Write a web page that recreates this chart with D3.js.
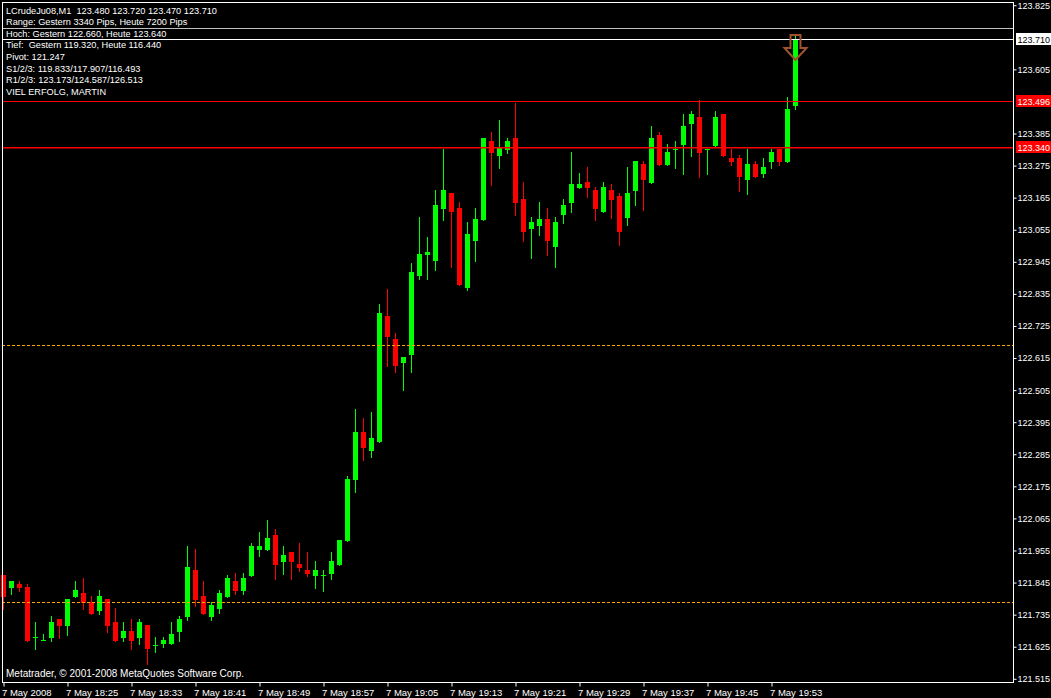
<!DOCTYPE html>
<html><head><meta charset="utf-8">
<script src="https://cdn.jsdelivr.net/npm/d3@7"></script>
<style>
html,body{margin:0;padding:0;background:#000;overflow:hidden}
text{font-family:"Liberation Sans",Arial,sans-serif;white-space:pre}
</style>
</head><body><svg id="c" width="1051" height="698"></svg>
<script>
const times = ["18:17","18:18","18:19","18:20","18:21","18:22","18:23","18:24","18:25","18:26",
"18:27","18:28","18:29","18:30","18:31","18:32","18:33","18:34","18:35","18:36",
"18:37","18:38","18:39","18:40","18:41","18:42","18:43","18:44","18:45","18:46",
"18:47","18:48","18:49","18:50","18:51","18:52","18:53","18:54","18:55","18:56",
"18:57","18:58","18:59","19:00","19:01","19:02","19:03","19:04","19:05","19:06",
"19:07","19:08","19:09","19:10","19:11","19:12","19:13","19:14","19:15","19:16",
"19:17","19:18","19:19","19:20","19:21","19:22","19:23","19:24","19:25","19:26",
"19:27","19:28","19:29","19:30","19:31","19:32","19:33","19:34","19:35","19:36",
"19:37","19:38","19:39","19:40","19:41","19:42","19:43","19:44","19:45","19:46",
"19:47","19:48","19:49","19:50","19:51","19:52","19:53","19:54","19:55","19:56"];

const opens = [121.871,121.827,121.840,121.830,121.657,121.647,121.656,121.720,121.697,121.796,
121.809,121.777,121.748,121.789,121.710,121.656,121.679,121.656,121.699,121.630,
121.635,121.635,121.676,121.727,121.888,121.799,121.728,121.755,121.796,121.850,
121.817,121.868,121.958,121.958,122.008,121.916,121.950,121.909,121.888,121.868,
121.871,121.875,121.905,121.988,122.198,122.361,122.296,122.327,122.759,122.680,
122.599,122.626,122.897,122.968,122.949,123.127,123.181,123.129,122.856,123.017,
123.089,123.359,123.309,123.329,123.369,123.160,123.058,123.069,123.092,122.997,
123.106,123.148,123.199,123.219,123.191,123.117,123.191,123.171,123.095,123.188,
123.280,123.215,123.380,123.277,123.332,123.345,123.417,123.441,123.332,123.342,
123.452,123.301,123.301,123.225,123.280,123.246,123.287,123.332,123.287,123.480];

const highs = [121.871,121.850,121.850,121.840,121.710,121.668,121.730,121.720,121.789,121.850,
121.861,121.799,121.819,121.789,121.758,121.710,121.720,121.720,121.699,121.658,
121.658,121.710,121.730,121.970,121.960,121.850,121.779,121.819,121.871,121.878,
121.878,121.981,122.018,122.059,122.029,121.971,121.950,121.981,121.950,121.919,
121.888,121.950,121.991,122.210,122.440,122.409,122.430,122.800,122.852,122.701,
122.618,122.941,123.099,123.030,123.191,123.332,123.181,123.150,123.081,123.129,
123.369,123.390,123.431,123.369,123.489,123.219,123.099,123.150,123.129,123.099,
123.160,123.321,123.249,123.270,123.201,123.219,123.212,123.181,123.270,123.291,
123.291,123.411,123.390,123.349,123.359,123.452,123.462,123.500,123.332,123.462,
123.452,123.332,123.311,123.332,123.291,123.301,123.332,123.332,123.510,123.720];

const lows = [121.754,121.807,121.817,121.646,121.618,121.647,121.646,121.656,121.666,121.796,
121.755,121.738,121.738,121.676,121.646,121.646,121.618,121.635,121.567,121.608,
121.625,121.635,121.646,121.717,121.766,121.738,121.717,121.740,121.796,121.807,
121.807,121.868,121.937,121.958,121.858,121.875,121.858,121.885,121.868,121.827,
121.817,121.858,121.905,121.988,122.156,122.266,122.277,122.327,122.589,122.568,
122.506,122.568,122.887,122.887,122.918,123.089,122.928,122.866,122.849,122.949,
123.089,123.209,123.268,123.319,123.106,123.017,122.959,123.038,122.969,122.928,
123.079,123.117,123.199,123.168,123.089,123.117,123.096,123.003,123.071,123.140,
123.123,123.215,123.277,123.277,123.267,123.246,123.308,123.237,123.246,123.342,
123.308,123.277,123.188,123.177,123.236,123.236,123.267,123.277,123.287,123.470];

const closes = [121.796,121.850,121.827,121.646,121.657,121.647,121.710,121.697,121.789,121.819,
121.776,121.738,121.799,121.697,121.646,121.679,121.646,121.710,121.618,121.630,
121.648,121.668,121.720,121.898,121.786,121.738,121.768,121.810,121.862,121.817,
121.862,121.971,121.971,121.998,121.905,121.939,121.916,121.896,121.875,121.888,
121.871,121.919,121.991,122.200,122.361,122.307,122.341,122.769,122.687,122.589,
122.618,122.910,122.972,122.979,123.140,123.191,123.117,122.866,123.040,123.092,
123.369,123.319,123.339,123.359,123.148,123.048,123.081,123.092,123.017,123.081,
123.140,123.212,123.212,123.199,123.127,123.201,123.158,123.047,123.181,123.291,
123.225,123.369,123.277,123.321,123.332,123.411,123.452,123.318,123.332,123.441,
123.308,123.287,123.236,123.280,123.236,123.270,123.321,123.287,123.469,123.710];

const priceTicks = [123.825,123.605,123.385,123.275,123.165,123.055,122.945,122.835,122.725,122.615,
122.505,122.395,122.285,122.175,122.065,121.955,121.845,121.735,121.625,121.515];

const timeTicks = ["18:17","18:25","18:33","18:41","18:49","18:57","19:05","19:13","19:21","19:29","19:37","19:45","19:53"];
const timeTickLabels = ["7 May 2008","7 May 18:25","7 May 18:33","7 May 18:41","7 May 18:49","7 May 18:57",
"7 May 19:05","7 May 19:13","7 May 19:21","7 May 19:29","7 May 19:37","7 May 19:45","7 May 19:53"];

const dashedLevels = [122.660, 121.780];
const redLevels = [123.496, 123.340];
const bidLevel = 123.710;
const askLevel = 123.747;

const headerLines = [
"LCrudeJu08,M1  123.480 123.720 123.470 123.710",
"Range: Gestern 3340 Pips, Heute 7200 Pips",
"Hoch: Gestern 122.660, Heute 123.640",
"Tief:  Gestern 119.320, Heute 116.440",
"Pivot: 121.247",
"S1/2/3: 119.833/117.907/116.493",
"R1/2/3: 123.173/124.587/126.513",
"VIEL ERFOLG, MARTIN"];
const copyright = "Metatrader, \u00A9 2001-2008 MetaQuotes Software Corp.";

const W = 1051, H = 698;
const L = 2, R = 1013, T = 2, B = 682;
const GREEN = "#00ff00", RED = "#ff0000";
const FONT = '"Liberation Sans",Arial,sans-serif';

const svg = d3.select("#c");
svg.append("rect").attr("width", W).attr("height", H).attr("fill", "#000");

const x = d3.scalePoint().domain(times).range([3.5, 795.5]);
const y = d3.scaleLinear().domain([121.504, 123.836]).range([B, T]);
const py = v => Math.round(y(v)) + 0.5;

// candles
const data = times.map((t, i) => ({t, o: opens[i], h: highs[i], l: lows[i], c: closes[i]}));
const cg = svg.append("g");
data.forEach(d => {
  const col = d.c >= d.o ? GREEN : RED;
  const cx = x(d.t);
  cg.append("line").attr("x1", cx).attr("x2", cx)
    .attr("y1", Math.round(y(d.h))).attr("y2", Math.round(y(d.l)) + 1)
    .attr("stroke", col).attr("stroke-width", 1);
  const top = Math.round(Math.min(y(d.o), y(d.c)));
  const bot = Math.round(Math.max(y(d.o), y(d.c)));
  cg.append("rect").attr("x", cx - 2.5).attr("y", top)
    .attr("width", 5).attr("height", Math.max(1, bot - top))
    .attr("fill", col);
});

// level lines
dashedLevels.forEach(v => {
  svg.append("line").attr("x1", L).attr("x2", R).attr("y1", py(v)).attr("y2", py(v))
    .attr("stroke", "#ffa500").attr("stroke-width", 1).attr("stroke-dasharray", "3,2");
});
redLevels.forEach((v, i) => {
  const w = i === 1 ? 1.5 : 1;
  const yy = i === 1 ? Math.round(y(v)) + 0.75 : py(v);
  svg.append("line").attr("x1", L).attr("x2", R).attr("y1", yy).attr("y2", yy)
    .attr("stroke", RED).attr("stroke-width", w);
});
svg.append("line").attr("x1", L).attr("x2", R).attr("y1", py(bidLevel)).attr("y2", py(bidLevel))
  .attr("stroke", "#fff").attr("stroke-width", 1);
svg.append("line").attr("x1", L).attr("x2", R).attr("y1", py(askLevel)).attr("y2", py(askLevel))
  .attr("stroke", "#c0c0c0").attr("stroke-width", 1);

// arrow above last bar
const last = data[data.length - 1];
const ax = x(last.t), ay = Math.round(y(last.h));
svg.append("path")
  .attr("d", `M${ax-5},${ay-1} L${ax+5},${ay-1} L${ax+5},${ay+12} L${ax+11},${ay+12} L${ax},${ay+24} L${ax-11},${ay+12} L${ax-5},${ay+12} Z`)
  .attr("fill", "none").attr("stroke", "#a0522d").attr("stroke-width", 2);

// frame
svg.append("rect").attr("x", L + 0.5).attr("y", T + 0.5).attr("width", R - L).attr("height", B - T)
  .attr("fill", "none").attr("stroke", "#fff").attr("stroke-width", 1);

// price axis
const yAxis = d3.axisRight(y).tickValues(priceTicks).tickSize(3).tickPadding(1)
  .tickFormat(d3.format(".3f"));
const ga = svg.append("g").attr("transform", `translate(${R + 0.5},0)`).call(yAxis);
ga.select(".domain").remove();
ga.selectAll("line").attr("stroke", "#fff");
ga.selectAll("text").attr("fill", "#fff").attr("font-size", 9).style("font-family", FONT);

// price markers
function marker(v, bg, fg) {
  const yy = Math.round(y(v));
  svg.append("rect").attr("x", R + 3).attr("y", yy - 6).attr("width", W - R - 3).attr("height", 12).attr("fill", bg);
  svg.append("text").attr("x", R + 4.5).attr("y", yy + 3.5).attr("fill", fg).attr("font-size", 9).text(d3.format(".3f")(v));
}
marker(bidLevel, "#fff", "#000");
marker(redLevels[0], RED, "#fff");
marker(redLevels[1], RED, "#fff");

// time axis
const xAxis = d3.axisBottom(x).tickValues(timeTicks).tickSize(4).tickPadding(3)
  .tickFormat((d, i) => timeTickLabels[i]);
const gx = svg.append("g").attr("transform", `translate(0,${B + 0.5})`).call(xAxis);
gx.select(".domain").remove();
gx.selectAll("line").attr("stroke", "#fff");
gx.selectAll("text").attr("fill", "#fff").attr("font-size", 9.5).attr("text-anchor", "start")
  .attr("dx", -2).style("font-family", FONT);

// header
const hg = svg.append("g");
headerLines.forEach((s, i) => {
  hg.append("text").attr("x", 6).attr("y", 13.5 + i * 11.6).attr("fill", "#fff").attr("font-size", 9.2).text(s);
});
svg.append("text").attr("x", 6).attr("y", 677).attr("fill", "#fff").attr("font-size", 10).text(copyright);
</script>
</body></html>
